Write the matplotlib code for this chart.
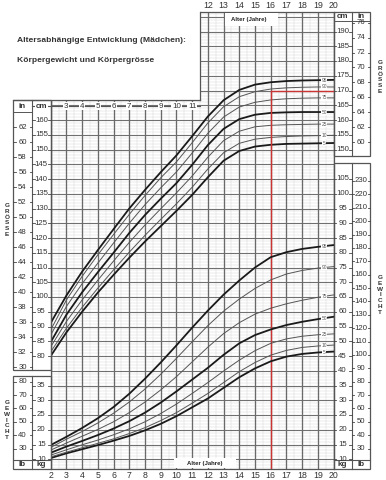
import numpy as np
import matplotlib
matplotlib.use('Agg')
import matplotlib.pyplot as plt
from matplotlib.patches import Rectangle
from matplotlib.transforms import blended_transform_factory as blend

plt.rcParams['font.family'] = ['Liberation Sans', 'DejaVu Sans']

# Alter in Jahren
ages = [2, 3, 4, 5, 6, 7, 8, 9, 10, 11, 12, 13, 14, 15, 16, 17, 18, 19, 20]
percentiles = ['5', '10', '25', '50', '75', '90', '95']

# Körpergrösse (cm)
height_p5 = [80.0, 88.0, 95.0, 101.5, 107.5, 113.3, 118.8, 124.0, 129.2, 134.6, 140.6, 146.2, 149.5, 151.0, 151.6, 151.9, 152.0, 152.1, 152.2]
height_p10 = [81.4, 89.4, 96.5, 103.0, 109.2, 115.2, 120.9, 126.3, 131.6, 137.2, 143.4, 148.9, 152.1, 153.5, 154.1, 154.4, 154.6, 154.7, 154.8]
height_p25 = [83.1, 91.7, 99.0, 105.7, 112.2, 118.5, 124.4, 129.9, 135.3, 141.0, 147.4, 153.0, 156.2, 157.7, 158.2, 158.4, 158.5, 158.6, 158.6]
height_p50 = [84.7, 94.0, 101.6, 108.4, 115.0, 121.7, 127.8, 133.3, 138.6, 144.8, 151.5, 157.0, 160.3, 161.8, 162.4, 162.6, 162.7, 162.7, 162.7]
height_p75 = [87.1, 96.8, 104.5, 111.5, 118.3, 125.0, 131.3, 137.0, 142.4, 148.8, 155.5, 161.0, 164.4, 166.0, 166.8, 167.2, 167.4, 167.5, 167.5]
height_p90 = [88.8, 99.0, 107.0, 114.3, 121.2, 128.0, 134.4, 140.4, 145.8, 152.3, 159.0, 164.5, 167.9, 169.6, 170.5, 170.9, 171.1, 171.2, 171.2]
height_p95 = [91.2, 100.5, 108.6, 115.9, 123.0, 130.0, 136.3, 142.3, 148.0, 154.5, 161.2, 166.7, 170.2, 172.0, 172.8, 173.2, 173.4, 173.5, 173.6]

# Körpergewicht (kg)
weight_p5 = [10.4, 12.0, 13.4, 14.8, 16.3, 17.9, 19.8, 22.0, 24.6, 27.6, 30.6, 34.2, 37.8, 40.8, 43.2, 44.8, 45.7, 46.2, 46.5]
weight_p10 = [10.8, 12.4, 13.9, 15.4, 16.9, 18.7, 20.7, 23.1, 25.8, 29.0, 32.3, 36.0, 39.7, 42.8, 45.3, 46.9, 47.9, 48.4, 48.7]
weight_p25 = [11.4, 13.2, 14.9, 16.5, 18.3, 20.3, 22.7, 25.5, 28.7, 32.3, 36.0, 39.9, 43.6, 46.8, 49.3, 50.8, 51.7, 52.2, 52.5]
weight_p50 = [12.2, 14.3, 16.2, 18.2, 20.4, 22.9, 25.8, 29.2, 33.0, 37.0, 41.0, 45.4, 49.3, 52.1, 54.0, 55.5, 56.6, 57.5, 58.3]
weight_p75 = [13.1, 15.5, 17.8, 20.1, 22.7, 25.8, 29.4, 33.5, 38.0, 43.0, 48.0, 52.6, 56.3, 59.2, 61.2, 62.7, 63.9, 64.9, 65.7]
weight_p90 = [14.0, 16.8, 19.4, 22.3, 25.6, 29.4, 33.8, 38.8, 44.2, 49.8, 55.3, 60.2, 64.3, 67.9, 70.8, 72.8, 74.0, 74.8, 75.3]
weight_p95 = [14.8, 17.6, 20.6, 23.9, 27.7, 32.2, 37.3, 42.8, 48.6, 54.6, 60.4, 65.8, 70.6, 75.0, 78.5, 80.2, 81.3, 82.0, 82.6]

heights = [height_p5, height_p10, height_p25, height_p50, height_p75, height_p90, height_p95]
weights = [weight_p5, weight_p10, weight_p25, weight_p50, weight_p75, weight_p90, weight_p95]

# Markierung (rot)
mark_age = 16
mark_cm = 170

KG_OFFSET = 35  # kg-Skala gegenüber cm-Skala verschoben

W, H = 386, 480
fig = plt.figure(figsize=(W / 100, H / 100), dpi=100)

# Rasterbereich in Pixeln
gx0, gx1, gy0, gy1 = 50.7, 333.6, 12, 469
px_per_cm = 2.95
def cm_at(ypx):
    return 80 + (356 - ypx) / px_per_cm

ax = fig.add_axes([gx0 / W, 1 - gy1 / H, (gx1 - gx0) / W, (gy1 - gy0) / H])
ax.set_xlim(2, 20)
ax.set_ylim(cm_at(gy1), cm_at(gy0))
ax.set_xticks([])
ax.set_yticks([])
for s in ax.spines.values():
    s.set_color('#555555')
    s.set_linewidth(0.9)

# Raster
ylo, yhi = ax.get_ylim()
for c in range(int(np.ceil(ylo)), int(yhi) + 1):
    if c % 5 == 0:
        ax.axhline(c, color='#707070', lw=0.8, zorder=1)
    else:
        ax.axhline(c, color='#d8d8d8', lw=0.35, zorder=0)
for a in np.arange(2, 20.01, 0.5):
    if a == int(a):
        ax.axvline(a, color='#6a6a6a', lw=0.95, zorder=1)
    else:
        ax.axvline(a, color='#d8d8d8', lw=0.35, zorder=0)

ax2 = ax.twinx()
ax2.set_ylim(ylo - KG_OFFSET, yhi - KG_OFFSET)
ax2.set_yticks([])
ax2.axis('off')

def style(p):
    if p in ('5', '50', '95'):
        return dict(color='#1a1a1a', lw=1.3)
    return dict(color='#555555', lw=0.7)

lab_age = 19.4
for p, h in zip(percentiles, heights):
    ax.plot(ages, h, zorder=3, **style(p))
    ax.text(lab_age, np.interp(lab_age, ages, h), p, fontsize=3.5, color='#555555',
            ha='center', va='center', zorder=4,
            bbox=dict(boxstyle='square,pad=0.1', fc='white', ec='none'))
for p, w in zip(percentiles, weights):
    ax2.plot(ages, w, zorder=3, **style(p))
    ax2.text(lab_age, np.interp(lab_age, ages, w), p, fontsize=3.5, color='#555555',
             ha='center', va='center', zorder=4,
             bbox=dict(boxstyle='square,pad=0.1', fc='white', ec='none'))

# rote Markierung
ax.plot([mark_age, mark_age], [ylo, mark_cm], color='#cc3333', lw=1.0, zorder=5)
ax.plot([mark_age, 20], [mark_cm, mark_cm], color='#cc3333', lw=1.0, zorder=5)

# Overlay in Pixelkoordinaten
ov = fig.add_axes([0, 0, 1, 1])
ov.set_xlim(0, W)
ov.set_ylim(H, 0)
ov.axis('off')
tr_cm = blend(ov.transData, ax.transData)
tr_kg = blend(ov.transData, ax2.transData)
tr_age = blend(ax.transData, ov.transData)

edge = '#555555'
# weisser Titelbereich oben links
ov.add_patch(Rectangle((gx0 - 1, 0), 200 - gx0 + 1, 100, fc='white', ec='none', zorder=1))
ov.plot([13, 200], [100, 100], color=edge, lw=0.9, zorder=2)
ov.plot([200, 200], [gy0, 100], color=edge, lw=0.9, zorder=2)
ov.text(17, 40, 'Altersabhängige Entwicklung (Mädchen):', fontsize=6.1, fontweight='bold',
        color='#333333', va='center')
ov.text(17, 60, 'Körpergewicht und Körpergrösse', fontsize=6.1, fontweight='bold',
        color='#333333', va='center')

def box(x0, x1, xm, y0, y1):
    ov.add_patch(Rectangle((x0, y0), x1 - x0, y1 - y0, fill=False, ec=edge, lw=0.9, zorder=2))
    ov.plot([xm, xm], [y0, y1], color=edge, lw=0.8, zorder=2)

def tick_label(x0, x1, y, txt, tr):
    ov.plot([x0, x0 + 2.5], [y, y], color='#444444', lw=0.6, transform=tr, zorder=3)
    ov.plot([x1 - 2.5, x1], [y, y], color='#444444', lw=0.6, transform=tr, zorder=3)
    ov.text((x0 + x1) / 2, y, txt, fontsize=5.6, color='#333333', ha='center', va='center',
            transform=tr, zorder=3)

lx0, lxm, lx1 = 13, 32, gx0
rx0, rxm, rx1 = gx1, 351.5, 370

# links: Grösse
box(lx0, lx1, lxm, 100, 370)
ov.plot([lx0, lxm], [112, 112], color=edge, lw=0.7)
ov.text((lx0 + lxm) / 2, 106, 'in', fontsize=5.8, fontweight='bold', color='#333333', ha='center', va='center')
ov.text((lxm + lx1) / 2, 106, 'cm', fontsize=5.8, fontweight='bold', color='#333333', ha='center', va='center', zorder=4,
        bbox=dict(boxstyle='square,pad=0.1', fc='white', ec='none'))
ov.plot([lxm, 200], [106, 106], color='#555555', lw=0.8, zorder=2)
for c in range(80, 161, 5):
    tick_label(lxm, lx1, c, str(c), tr_cm)
for i in range(30, 63, 2):
    tick_label(lx0, lxm, i * 2.54, str(i), tr_cm)
for a in range(3, 12):
    ov.text(a, 106, str(a), transform=tr_age, fontsize=5.8, color='#333333', ha='center', va='center', zorder=4,
            bbox=dict(boxstyle='square,pad=0.1', fc='white', ec='none'))

# links: Gewicht
box(lx0, lx1, lxm, 376, gy1)
ov.plot([lx0, lx1], [460, 460], color=edge, lw=0.8)
ov.text((lx0 + lxm) / 2, 465, 'lb', fontsize=5.8, fontweight='bold', color='#333333', ha='center', va='center')
ov.text((lxm + lx1) / 2, 465, 'kg', fontsize=5.8, fontweight='bold', color='#333333', ha='center', va='center')
for k in range(10, 36, 5):
    tick_label(lxm, lx1, k, str(k), tr_kg)
for lb in range(30, 81, 10):
    tick_label(lx0, lxm, lb * 0.45359, str(lb), tr_kg)

# rechts: Grösse
box(rx0, rx1, rxm, gy0, 156)
ov.plot([rx0, rx1], [21, 21], color=edge, lw=0.7)
ov.text((rx0 + rxm) / 2, 16, 'cm', fontsize=5.8, fontweight='bold', color='#333333', ha='center', va='center')
ov.text((rxm + rx1) / 2, 16, 'in', fontsize=5.8, fontweight='bold', color='#333333', ha='center', va='center')
for c in range(150, 191, 5):
    tick_label(rx0, rxm, c, str(c), tr_cm)
for i in range(60, 77, 2):
    tick_label(rxm, rx1, i * 2.54, str(i), tr_cm)

# rechts: Gewicht
box(rx0, rx1, rxm, 163, gy1)
ov.plot([rx0, rx1], [460, 460], color=edge, lw=0.8)
ov.text((rx0 + rxm) / 2, 465, 'kg', fontsize=5.8, fontweight='bold', color='#333333', ha='center', va='center')
ov.text((rxm + rx1) / 2, 465, 'lb', fontsize=5.8, fontweight='bold', color='#333333', ha='center', va='center')
for k in range(10, 106, 5):
    tick_label(rx0, rxm, k, str(k), tr_kg)
for lb in range(30, 231, 10):
    tick_label(rxm, rx1, lb * 0.45359, str(lb), tr_kg)

# Altersachsen
for a in ages:
    ov.text(a, 476, str(a), transform=tr_age, fontsize=6.3, color='#333333', ha='center', va='center')
for a in range(12, 21):
    ov.text(a, 6, str(a), transform=tr_age, fontsize=6.3, color='#333333', ha='center', va='center')
ov.add_patch(Rectangle((225, gy0 + 0.6), 53, 13, fc='white', ec='none', zorder=3))
ov.text(249, 19, 'Alter (Jahre)', fontsize=4.3, fontweight='bold', color='#222222', ha='center', va='center', zorder=4)
ov.add_patch(Rectangle((174, 458), 62, gy1 - 458 - 0.6, fc='white', ec='none', zorder=3))
ov.text(205, 463.5, 'Alter (Jahre)', fontsize=4.3, fontweight='bold', color='#222222', ha='center', va='center', zorder=4)

# senkrechte Beschriftungen
vkw = dict(fontsize=4.6, fontweight='bold', color='#333333', ha='center', va='center', linespacing=1.2)
ov.text(7, 220, '\n'.join('GRÖSSE'), **vkw)
ov.text(7, 420, '\n'.join('GEWICHT'), **vkw)
ov.text(380, 77, '\n'.join('GRÖSSE'), **vkw)
ov.text(380, 295, '\n'.join('GEWICHT'), **vkw)

fig.savefig('out.png', dpi=100)
